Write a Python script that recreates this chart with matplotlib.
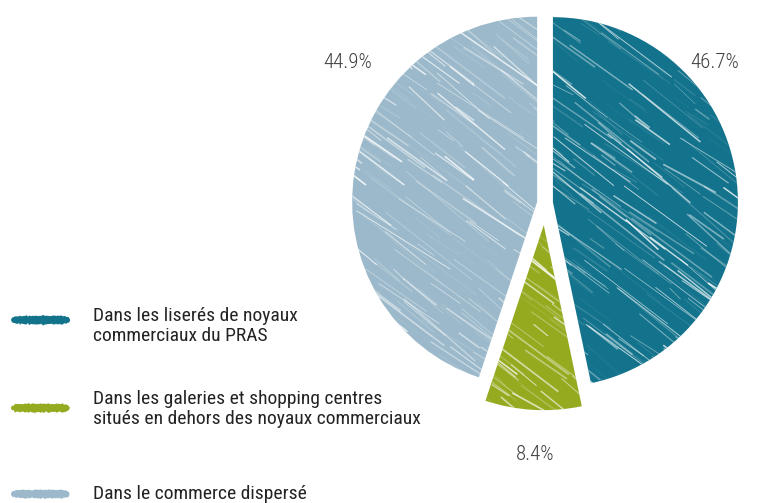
import numpy as np
import matplotlib.pyplot as plt
from matplotlib.collections import LineCollection
from matplotlib.patches import Polygon

plt.rcParams['font.family'] = ['Roboto Condensed', 'Liberation Sans Narrow',
                               'Arial Narrow', 'Roboto', 'DejaVu Sans']

# share of shops by location
labels = [
    "Dans les liserés de noyaux\ncommerciaux du PRAS",
    "Dans les galeries et shopping centres\nsitués en dehors des noyaux commerciaux",
    "Dans le commerce dispersé",
]
shares = [46.7, 8.4, 44.9]
pct_text = ["46.7%", "8.4%", "44.9%"]
colors = ["#13738C", "#96AA20", "#9BB9CA"]
explode = [0.043, 0.12, 0.043]

W, H = 760, 503
fig = plt.figure(figsize=(W / 100, H / 100), dpi=100)
ax = fig.add_axes([0, 0, 1, 1])

# one data unit = pie radius = 185 px, centre at (545, 203) px from top-left
R = 185.0
cx, cy = 545.0, 203.0

wedges, _ = ax.pie(shares, colors=colors, explode=explode, startangle=90,
                   counterclock=False, radius=1.0, normalize=True,
                   wedgeprops=dict(linewidth=0))
ax.set_xlim(-cx / R, (W - cx) / R)
ax.set_ylim((cy - H) / R, cy / R)
ax.set_aspect("auto")
ax.axis("off")

# pencil-like scribble texture inside each wedge
rng = np.random.default_rng(11)
for w in wedges:
    c = np.array(w.center)
    n = 380
    ang = np.deg2rad(rng.normal(-37, 3, n))
    d = np.stack([np.cos(ang), np.sin(ang)], axis=1)
    mids = c + rng.uniform(-1.05, 1.05, size=(n, 2))
    lens = rng.uniform(0.08, 0.6, n)[:, None]
    segs = np.stack([mids - d * lens / 2, mids + d * lens / 2], axis=1)
    alphas = rng.uniform(0.1, 0.9, n) ** 1.6
    lc = LineCollection(segs, linewidths=rng.uniform(0.3, 1.3, n),
                        colors=[(1, 1, 1, a) for a in alphas])
    lc.set_clip_path(w)
    ax.add_collection(lc)

# percentage labels
def px(x, y):
    return x / W, 1 - y / H

for (x, y), t in zip([(715, 62), (535, 455), (348, 62)], pct_text):
    fig.text(*px(x, y), t, ha="center", va="center", fontsize=15,
             fontweight="light", color="#404040")

# legend with brush-stroke swatches
for y, ty, lab, col in zip([320, 408, 494], [326, 409, 494], labels, colors):
    xs = np.linspace(11, 70, 60)
    t = (xs - 40.5) / 29.5
    half = 4.2 * np.sqrt(np.clip(1 - t ** 8, 0, 1)) + rng.normal(0, 0.35, xs.size)
    top = np.column_stack([xs, y - half])
    bot = np.column_stack([xs[::-1], (y + half + rng.normal(0, 0.35, xs.size))[::-1]])
    pts = np.vstack([top, bot])
    fig.add_artist(Polygon(np.column_stack([pts[:, 0] / W, 1 - pts[:, 1] / H]),
                           closed=True, facecolor=col, edgecolor="none",
                           transform=fig.transFigure))
    fig.text(93 / W, 1 - ty / H, lab, ha="left", va="center", fontsize=14,
             color="#232323", linespacing=1.2)

fig.savefig("out.png", dpi=100)
